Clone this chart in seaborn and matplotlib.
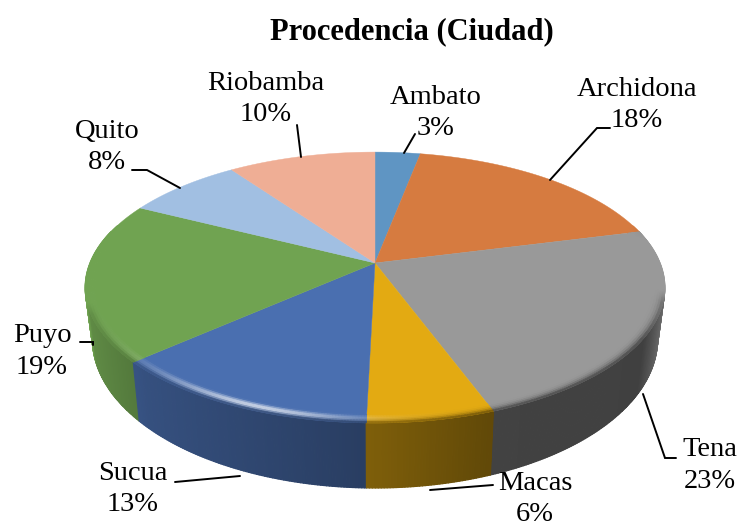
import matplotlib
matplotlib.use('Agg')
import matplotlib.pyplot as plt
from matplotlib.collections import PolyCollection
from matplotlib.patches import Polygon
import numpy as np
import seaborn as sns

ciudades = ['Ambato', 'Archidona', 'Tena', 'Macas', 'Sucua', 'Puyo', 'Quito', 'Riobamba']
shares = [3.0, 18.0, 23.4, 6.0, 13.0, 19.1, 7.7, 9.8]
colores = ['#5F95C3', '#D67B40', '#999999', '#E3AA12', '#4A6FB0', '#70A351', '#A1BFE2', '#EFAE95']

sns.set_theme(style='white')
plt.rcParams['font.family'] = ['Liberation Serif', 'DejaVu Sans']

# centro del pie y perspectiva, en pixeles
CX, CY = 375, 263
RX, RY, K = 285, 131, 0.181


def proyectar(t, r=1.0):
    u, v = r * np.cos(t), r * np.sin(t)
    d = 1 + K * v
    return CX + RX * u / d, CY - RY * v / d


def base(x, y):
    return CX + (x - CX) * 0.975, CY + (y - CY) * 1.1 + 49


def sombra(t):
    # oscuridad de la pared segun el angulo
    return np.interp(np.cos(t), [-1, -0.93, -0.7, 0, 0.33, 0.85, 0.96, 1],
                     [1.25, 0.85, 0.72, 0.55, 0.43, 0.42, 0.7, 1.3])


def brillo(t):
    # reflejo del borde superior, fuerte a la izquierda del frente
    return np.exp(-((np.cos(t) + 0.35) / 0.3) ** 2) * 0.45


def mezcla(c, f):
    c = np.array(c)
    if f <= 1:
        return tuple(c * f)
    return tuple(c + (1 - c) * min(f - 1, 1))


def angulos(w):
    ts = np.arange(w.theta1, w.theta2, 0.5)
    return np.radians(np.append(ts, w.theta2))


fig, ax = plt.subplots(figsize=(7.4, 5.27), dpi=100)
fig.subplots_adjust(0, 0, 1, 1)
paleta = sns.color_palette(colores)
wedges, _ = ax.pie(shares, colors=paleta, startangle=90, counterclock=False)

ax.set_aspect('auto')
ax.set_xlim(0, 740)
ax.set_ylim(527, 0)
ax.axis('off')

# paredes laterales
polys, cols = [], []
for w, color in zip(wedges, paleta):
    w.set_visible(False)
    ts = angulos(w)
    for t0, t1 in zip(ts[:-1], ts[1:]):
        tm = (t0 + t1) / 2
        if np.sin(tm) > 0.25:
            continue
        x0, y0 = proyectar(t0)
        x1, y1 = proyectar(t1)
        bx0, by0 = base(x0, y0)
        bx1, by1 = base(x1, y1)
        polys.append([(x0, y0), (x1, y1), (bx1, by1), (bx0, by0)])
        cols.append(mezcla(color, sombra(tm)))
orden = np.argsort([p[0][1] for p in polys])
ax.add_collection(PolyCollection([polys[i] for i in orden], facecolors=[cols[i] for i in orden],
                                 edgecolors=[cols[i] for i in orden], linewidths=0.9, zorder=2))

# cara superior
for w, color in zip(wedges, paleta):
    ts = np.radians(np.linspace(w.theta1, w.theta2, 60))
    xs, ys = proyectar(ts)
    ax.add_patch(Polygon(np.column_stack([np.r_[CX, xs], np.r_[CY, ys]]), closed=True,
                         facecolor=color, edgecolor=color, linewidth=0.3, zorder=3))

# bisel sobre el borde
polys, cols = [], []
radios = np.linspace(0.955, 1.0, 7)
for w, color in zip(wedges, paleta):
    ts = angulos(w)
    for t0, t1 in zip(ts[:-1], ts[1:]):
        tm = (t0 + t1) / 2
        if np.sin(tm) > 0.3:
            continue
        fade = min(1, (0.3 - np.sin(tm)) / 0.3)
        for i, (r0, r1) in enumerate(zip(radios[:-1], radios[1:])):
            a = (i + 0.5) / (len(radios) - 1)
            x00, y00 = proyectar(t0, r0)
            x01, y01 = proyectar(t1, r0)
            x11, y11 = proyectar(t1, r1)
            x10, y10 = proyectar(t0, r1)
            c = np.array(color)
            oscuro = c * (1 - fade * (1 - min(sombra(tm), 1)) * a ** 3)
            pico = np.sin(np.pi * a) ** 2 * brillo(tm) * 1.6
            c = oscuro + (1 - oscuro) * min(pico, 0.85)
            polys.append([(x00, y00), (x01, y01), (x11, y11), (x10, y10)])
            cols.append(tuple(np.clip(c, 0, 1)))
ax.add_collection(PolyCollection(polys, facecolors=cols, edgecolors=cols, linewidths=0.5, zorder=4))

# etiquetas: centro x, y de la primera linea
pos_etiquetas = [(436, 97), (637, 89), (710, 450), (535, 483), (133, 473), (42, 336), (107, 131), (266, 83)]
for nombre, valor, (x, y) in zip(ciudades, shares, pos_etiquetas):
    ax.text(x, y, nombre, ha='center', va='center', fontsize=20.5, color='black', zorder=6)
    ax.text(x, y + 31.5, '{}%'.format(round(valor)), ha='center', va='center', fontsize=20.5, color='black', zorder=6)

guias = [
    [(404, 153), (415, 134)],
    [(550, 180), (597, 128), (610, 128)],
    [(643, 394), (665, 458), (676, 458)],
    [(430, 490), (493, 485)],
    [(175, 482), (240, 476)],
    [(80, 342), (93, 342), (93, 345)],
    [(132, 170), (147, 170), (180, 188)],
    [(297, 125), (301, 157)],
]
for g in guias:
    gx, gy = zip(*g)
    ax.plot(gx, gy, color='black', lw=1.4, solid_joinstyle='miter', zorder=5)

ax.text(412, 32, 'Procedencia (Ciudad)', ha='center', va='center', fontsize=22,
        fontweight='bold', color='black')

fig.savefig('out.png', dpi=100)
